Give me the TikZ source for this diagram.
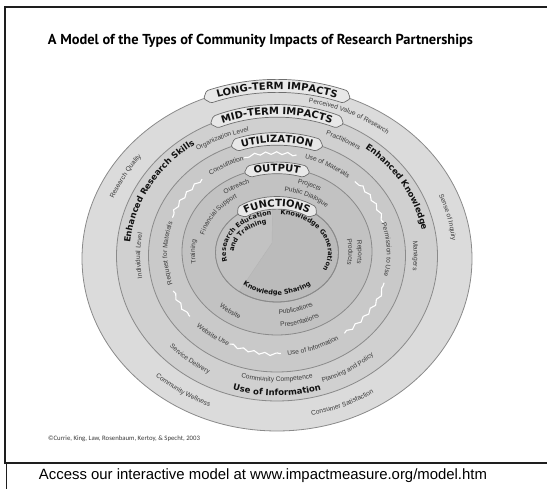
\documentclass[tikz,border=0pt]{standalone}
\usepackage{fontspec}
\usepackage{graphicx}
\usetikzlibrary{decorations.text,decorations.pathmorphing}
\setmainfont{Liberation Sans}
\newfontfamily\labelface{Liberation Sans}
\newfontfamily\heavyface{DejaVu Sans}
\newfontfamily\titleface{PT Sans}
\newfontfamily\noteface{Carlito}

\definecolor{ringA}{HTML}{DBDBDB}
\definecolor{ringB}{HTML}{D0D0D0}
\definecolor{ringC}{HTML}{C9C9C9}
\definecolor{ringD}{HTML}{C2C2C2}
\definecolor{ringE}{HTML}{BBBBBB}
\definecolor{ringEsoft}{HTML}{C2C2C2}
\definecolor{ringline}{HTML}{8A8A8A}
\definecolor{tabfill}{HTML}{E8E8E8}
\definecolor{tabline}{HTML}{6E6E6E}
\definecolor{labgray}{HTML}{3A3A3A}
\definecolor{inkdark}{HTML}{111111}
\definecolor{frameink}{HTML}{1E1E1E}

% label fonts
\newcommand\smalllab{\labelface\fontsize{6.6}{7}\selectfont}
\newcommand\boldlab{\heavyface\bfseries\fontsize{8.5}{9}\selectfont}
\newcommand\funclab{\heavyface\bfseries\fontsize{6.6}{7}\selectfont}
\newcommand\tablab{\heavyface\bfseries\fontsize{10}{11}\selectfont}

% point on the ellipse centred at (277,cy): \elpt{name}{cy}{rx}{ry}{angle}
\newcommand\elpt[5]{%
  \pgfmathsetmacro\elx{277+(#3)*cos(#5)}\pgfmathsetmacro\ely{#2+(#4)*sin(#5)}%
  \coordinate (#1) at (\elx,\ely);}

% text on an elliptic arc centred on (277,#1), read clockwise (tops outward)
% #1 cy, #2 rx, #3 ry, #4 centre angle, #5 font, #6 colour, #7 text
\newcommand\cwlabel[7]{%
  \pgfmathsetmacro\lblsa{#4+85}\pgfmathsetmacro\lblea{#4-85}%
  \elpt{lblstart}{#1}{#2}{#3}{\lblsa}%
  \path[decorate, decoration={text along path, text align=center,
      text color=#6, text={|#5|#7}}]
    (lblstart) arc[start angle=\lblsa, end angle=\lblea, x radius=#2, y radius=#3];}
% same, read counter-clockwise (tops toward the centre)
\newcommand\ccwlabel[7]{%
  \pgfmathsetmacro\lblsa{#4-85}\pgfmathsetmacro\lblea{#4+85}%
  \elpt{lblstart}{#1}{#2}{#3}{\lblsa}%
  \path[decorate, decoration={text along path, text align=center,
      text color=#6, text={|#5|#7}}]
    (lblstart) arc[start angle=\lblsa, end angle=\lblea, x radius=#2, y radius=#3];}

% curved banner sitting on the top of a ring
% #1 cy, #2 rx, #3 ry, #4 half span (deg), #5 half height, #6 tip (deg), #7 title
\newcommand\ringbanner[7]{%
  \pgfmathsetmacro\tba{90+#4}\pgfmathsetmacro\tbb{90-#4}%
  \pgfmathsetmacro\tbxo{#2+#5}\pgfmathsetmacro\tbyo{#3+#5}%
  \pgfmathsetmacro\tbxi{#2-#5}\pgfmathsetmacro\tbyi{#3-#5}%
  \pgfmathsetmacro\tbta{\tba+#6}\pgfmathsetmacro\tbtb{\tbb-#6}%
  \pgfmathsetmacro\tbxt{#2-3.6}\pgfmathsetmacro\tbyt{#3-3.6}%
  \elpt{bnA}{#1}{\tbxo}{\tbyo}{\tba}%
  \elpt{bnB}{#1}{#2}{#3}{\tbtb}%
  \elpt{bnC}{#1}{\tbxi}{\tbyi}{\tbb}%
  \elpt{bnD}{#1}{#2}{#3}{\tbta}%
  \draw[banner] (bnA)
    arc[start angle=\tba, end angle=\tbb, x radius=\tbxo, y radius=\tbyo]
    -- (bnB) -- (bnC)
    arc[start angle=\tbb, end angle=\tba, x radius=\tbxi, y radius=\tbyi]
    -- (bnD) -- cycle;
  \cwlabel{#1}{\tbxt}{\tbyt}{90}{\tablab}{inkdark}{#7}}

% white wavy trace on the middle of the utilization ring
\newcommand\wavyarc[2]{%
  \elpt{wvstart}{235.5}{112}{100}{#1}%
  \draw[wavy] (wvstart)
    arc[start angle=#1, end angle=#2, x radius=112, y radius=100];}

\begin{document}
\begin{tikzpicture}[x=1pt,y=1pt,
  frameline/.style={draw=frameink, line width=2pt},
  framethin/.style={draw=frameink, line width=1pt},
  ring/.style={draw=ringline, line width=0.8pt},
  banner/.style={fill=tabfill, draw=tabline, line width=0.7pt, rounded corners=1.5pt},
  wavy/.style={draw=white, line width=1.1pt, decorate,
    decoration={snake, segment length=11pt, amplitude=1.3pt}}]
\useasboundingbox (0,0) rectangle (547,489);
\fill[white] (0,0) rectangle (547,489);

% frame of the table cell
\coordinate (ftl) at (5,481.5);
\coordinate (ftr) at (547,481.5);
\coordinate (fml) at (5,26);
\coordinate (fmr) at (547,26);
\coordinate (fsl) at (6.3,26);
\coordinate (fbl) at (6.3,0);
\draw[frameline] (ftr) -- (ftl) -- (fml) -- (fmr);
\draw[framethin] (fsl) -- (fbl);

% title
\node[inner sep=0pt] (title) at (260.5,448.5)
  {\resizebox{425pt}{!}{\titleface\bfseries\fontsize{14}{16}\selectfont%
   A Model of the Types of Community Impacts of Research Partnerships}};

% nested rings
\path[ring, fill=ringA] (277,230.5) ellipse [x radius=195, y radius=172.5];
\path[ring, fill=ringB] (277,233) ellipse [x radius=160.5, y radius=145];
\path[ring, fill=ringC] (277,233.5) ellipse [x radius=128.5, y radius=116.5];
\path[ring, fill=ringD] (277,237.5) ellipse [x radius=95, y radius=83.5];
\path[ring, fill=ringE] (277,236.5) ellipse [x radius=61.5, y radius=49.5];

% softly lit wedge of the core
\coordinate (corehub) at (272,246);
\elpt{coretop}{236.5}{61.5}{49.5}{94}
\elpt{corelow}{236.5}{61.5}{49.5}{232}
\fill[ringEsoft] (corehub) -- (coretop)
  arc[start angle=94, end angle=232, x radius=61.5, y radius=49.5] -- cycle;
\draw[ringline!25!ringEsoft, line width=0.4pt] (coretop) -- (corehub) -- (corelow);
\path[ring] (277,236.5) ellipse [x radius=61.5, y radius=49.5];

% wavy traces
\wavyarc{80}{107}
\wavyarc{18}{46}
\wavyarc{-53}{-17}
\wavyarc{-115}{-88}
\wavyarc{-158}{-141}
\wavyarc{132}{159}

% long-term ring
\cwlabel{232}{175.8}{156.8}{63}{\smalllab}{labgray}{Perceived Value of Research}
\cwlabel{232}{175.8}{156.8}{13}{\smalllab}{labgray}{Sense of Inquiry}
\ccwlabel{232}{180.2}{161.2}{-66}{\smalllab}{labgray}{Consumer Satisfaction}
\ccwlabel{232}{180.2}{161.2}{-125}{\smalllab}{labgray}{Community Wellness}
\cwlabel{232}{175.8}{156.8}{152}{\smalllab}{labgray}{Research Quality}

% mid-term ring
\cwlabel{233.2}{140.5}{127}{115}{\smalllab}{labgray}{Organization Level}
\cwlabel{233.2}{142.3}{128.8}{60}{\smalllab}{labgray}{Practitioners}
\cwlabel{233.2}{147.5}{134}{151}{\boldlab}{inkdark}{Enhanced Research Skills}
\cwlabel{233.2}{136.8}{123.8}{180}{\smalllab}{labgray}{Individual Level}
\cwlabel{233.2}{147.5}{134}{30}{\boldlab}{inkdark}{Enhanced Knowledge}
\cwlabel{233.2}{136.8}{123.8}{0}{\smalllab}{labgray}{Managers}
\ccwlabel{233.2}{146.7}{133.2}{-58}{\smalllab}{labgray}{Planning and Policy}
\ccwlabel{233.2}{146.7}{133.2}{-130}{\smalllab}{labgray}{Service Delivery}
\ccwlabel{233.2}{140}{126}{-90}{\smalllab}{labgray}{Community Competence}
\ccwlabel{233.2}{154}{140}{-90}{\boldlab}{inkdark}{Use of Information}

% utilization ring
\cwlabel{235.5}{109.8}{97.8}{120}{\smalllab}{labgray}{Consultation}
\cwlabel{235.5}{109.8}{97.8}{60}{\smalllab}{labgray}{Use of Materials}
\cwlabel{235.5}{109.8}{97.8}{2}{\smalllab}{labgray}{Permission to Use}
\ccwlabel{235.5}{114.2}{102.2}{-69}{\smalllab}{labgray}{Use of Information}
\ccwlabel{235.5}{114.2}{102.2}{-128}{\smalllab}{labgray}{Website Use}
\cwlabel{235.5}{109.8}{97.8}{180}{\smalllab}{labgray}{Request for Materials}

% output ring
\cwlabel{237}{84.5}{72.5}{122}{\smalllab}{labgray}{Outreach}
\cwlabel{237}{75.5}{64}{147}{\smalllab}{labgray}{Financial Support}
\cwlabel{237}{82}{70}{180}{\smalllab}{labgray}{Training}
\cwlabel{237}{82}{71}{64}{\smalllab}{labgray}{Projects}
\cwlabel{237}{71.5}{61}{62}{\smalllab}{labgray}{Public Dialogue}
\cwlabel{237}{81}{69}{0}{\smalllab}{labgray}{Reports}
\cwlabel{237}{71.5}{61.5}{0}{\smalllab}{labgray}{Products}
\ccwlabel{237}{84.5}{74.5}{-128}{\smalllab}{labgray}{Website}
\ccwlabel{237}{72}{62}{-72}{\smalllab}{labgray}{Publications}
\ccwlabel{237}{83.5}{75}{-72}{\smalllab}{labgray}{Presentations}

% functions core
\cwlabel{236.5}{51}{37.5}{148}{\funclab}{inkdark}{Research Education}
\cwlabel{236.5}{43}{30}{147}{\funclab}{inkdark}{and Training}
\cwlabel{236.5}{51}{38}{28}{\funclab}{inkdark}{Knowledge Generation}
\ccwlabel{236.5}{52}{42.5}{-90}{\funclab}{inkdark}{Knowledge Sharing}

% banners
\ringbanner{230.5}{195}{172.5}{20.5}{6.5}{1.6}{LONG-TERM IMPACTS}
\ringbanner{233}{160.5}{145}{22.5}{6.3}{2}{MID-TERM IMPACTS}
\ringbanner{233.5}{128.5}{116.5}{18.5}{6.3}{2.5}{UTILIZATION}
\ringbanner{237.5}{95}{83.5}{17}{5.8}{3.2}{OUTPUT}
\ringbanner{236.5}{61.5}{49.5}{35}{6.3}{5}{FUNCTIONS}

% credit line and footer
\node[inner sep=0pt] (credit) at (124,50)
  {\resizebox{152pt}{!}{\color{labgray}\noteface\fontsize{7}{8}\selectfont%
   ©Currie, King, Law, Rosenbaum, Kertoy, \& Specht, 2003}};
\node[inner sep=0pt, font=\labelface\fontsize{14.9}{17}\selectfont] (footer) at (263,13)
  {Access our interactive model at www.impactmeasure.org/model.htm};
\end{tikzpicture}
\end{document}
